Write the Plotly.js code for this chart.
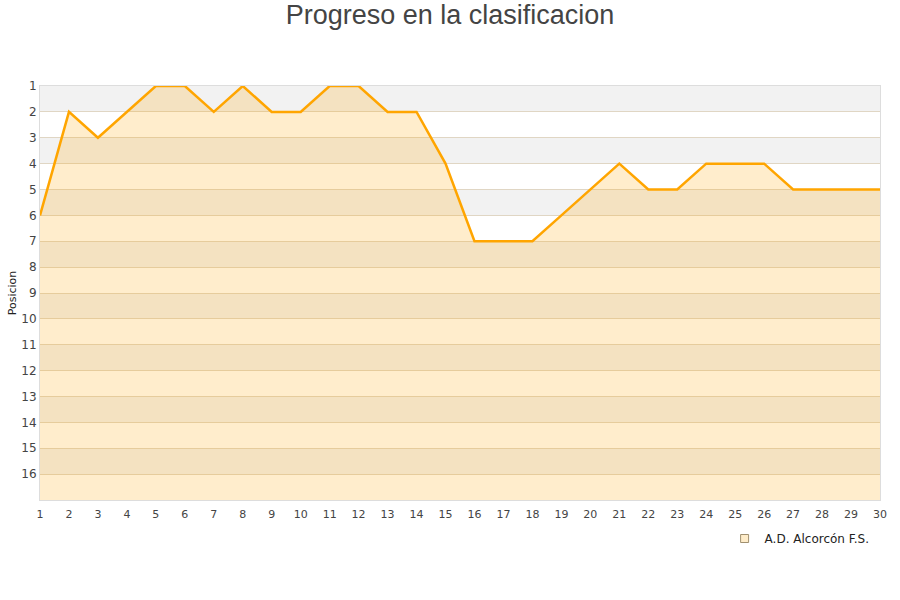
<!DOCTYPE html>
<html><head><meta charset="utf-8">
<script src="https://cdn.plot.ly/plotly-3.0.1.min.js"></script>
<style>html,body{margin:0;padding:0;background:#fff}</style>
</head><body><div id="chart" style="width:900px;height:600px"></div>
<script>
const jornadas = [1,2,3,4,5,6,7,8,9,10,11,12,13,14,15,16,17,18,19,20,21,22,23,24,25,26,27,28,29,30];
const posiciones = [6,2,3,2,1,1,2,1,2,2,1,1,2,2,4,7,7,7,6,5,4,5,5,4,4,4,5,5,5,5];
const yTicks = [1,2,3,4,5,6,7,8,9,10,11,12,13,14,15,16];
const equipo = "A.D. Alcorcón F.S.";
const numEquipos = 17;

const shapes = [];
for (let k = 1; k < numEquipos; k += 2) {
  shapes.push({type:'rect', xref:'paper', yref:'y', x0:0, x1:1, y0:k, y1:k+1,
    fillcolor:'#f2f2f2', line:{width:0}, layer:'below'});
}

const traces = [
  {x: jornadas, y: jornadas.map(() => numEquipos), mode:'lines', line:{width:0, color:'rgba(0,0,0,0)'},
   showlegend:false, hoverinfo:'skip'},
  {x: jornadas, y: posiciones, mode:'lines', fill:'tonexty', fillcolor:'rgba(255,165,0,0.2)',
   line:{color:'#ffa500', width:2.5}, showlegend:false, name: equipo},
  {x:[null], y:[null], mode:'markers', name: equipo,
   marker:{symbol:'square', size:8, color:'#feecc9', line:{color:'#a09070', width:1}}}
];

const layout = {
  width:900, height:600,
  margin:{l:40, r:20, t:86, b:100, autoexpand:false},
  paper_bgcolor:'#fff', plot_bgcolor:'#fff',
  title:{text:'Progreso en la clasificacion', x:0.5, xanchor:'center', y:0.975, yanchor:'middle',
    font:{family:'Liberation Sans, Arial, sans-serif', size:27, color:'#444'}},
  font:{family:'DejaVu Sans, sans-serif', size:11, color:'#444'},
  xaxis:{range:[1,30], tickvals:jornadas, ticktext:jornadas.map(String), showgrid:false, zeroline:false,
    showline:true, linecolor:'#ddd', mirror:true, ticks:'outside', ticklen:4, tickcolor:'rgba(0,0,0,0)',
    tickfont:{size:11, color:'#444'}},
  yaxis:{range:[numEquipos,1], tickvals:yTicks, ticktext:yTicks.map(String), showgrid:true, gridcolor:'#e0d6c4',
    zeroline:false, showline:true, linecolor:'#ddd', mirror:true, ticks:'', 
    tickfont:{size:12, color:'#444'},
    title:{text:'Posicion', font:{size:11, color:'#222'}, standoff:2}},
  shapes: shapes,
  showlegend:true,
  legend:{orientation:'h', x:0.815, xanchor:'left', y:-0.058, yanchor:'top',
    font:{size:12, color:'#222'}, bgcolor:'rgba(0,0,0,0)'}
};
Plotly.newPlot('chart', traces, layout, {displayModeBar:false, staticPlot:true});
</script></body></html>
